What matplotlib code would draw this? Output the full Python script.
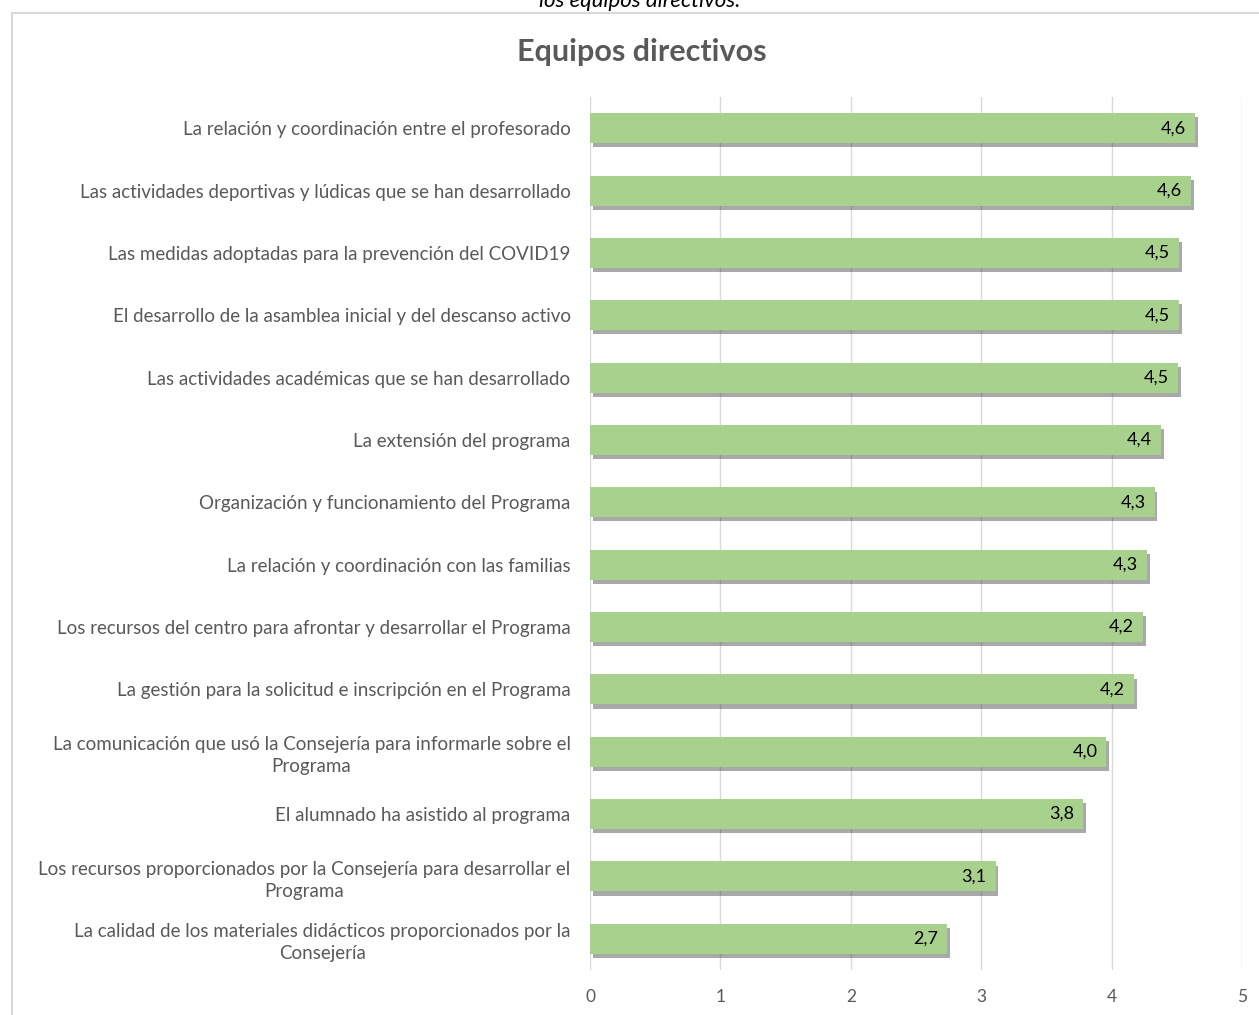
import matplotlib.pyplot as plt
import matplotlib.patheffects as pe
from matplotlib.patches import Rectangle

categories = [
    'La relación y coordinación entre el profesorado',
    'Las actividades deportivas y lúdicas que se han desarrollado',
    'Las medidas adoptadas para la prevención del COVID19',
    'El desarrollo de la asamblea inicial y del descanso activo',
    'Las actividades académicas que se han desarrollado',
    'La extensión del programa',
    'Organización y funcionamiento del Programa',
    'La relación y coordinación con las familias',
    'Los recursos del centro para afrontar y desarrollar el Programa',
    'La gestión para la solicitud e inscripción en el Programa',
    'La comunicación que usó la Consejería para informarle sobre el\nPrograma',
    'El alumnado ha asistido al programa',
    'Los recursos proporcionados por la Consejería para desarrollar el\nPrograma',
    'La calidad de los materiales didácticos proporcionados por la\nConsejería',
]
values = [4.64, 4.61, 4.52, 4.52, 4.51, 4.38, 4.33, 4.27, 4.24, 4.17, 3.96, 3.78, 3.11, 2.74]
value_labels = ['4,6', '4,6', '4,5', '4,5', '4,5', '4,4', '4,3', '4,3', '4,2', '4,2', '4,0', '3,8', '3,1', '2,7']
ticks = [0, 1, 2, 3, 4, 5]

plt.rcParams['font.family'] = ['Lato', 'DejaVu Sans']

fig = plt.figure(figsize=(12.59, 10.15), dpi=100)
ax = fig.add_axes([590 / 1259, 1 - 970 / 1015, (1242 - 590) / 1259, (970 - 97) / 1015])

# chart frame
fig.patches.append(Rectangle((12 / 1259, -0.01), 1.0, 1 - 13 / 1015 + 0.01,
                             transform=fig.transFigure, fill=False,
                             edgecolor='#d9d9d9', linewidth=1.5))
fig.text(640 / 1259, 1 - 7 / 1015, 'los equipos directivos.', ha='center', va='baseline',
         fontsize=16, style='italic', color='#000000')
fig.text(642 / 1259, 1 - 52 / 1015, 'Equipos directivos', ha='center', va='center',
         fontsize=22, fontweight='bold', color='#595959')

ypos = list(range(len(categories)))
bars = ax.barh(ypos, values, height=0.48, color='#a9d18e', zorder=3)
for b in bars:
    b.set_path_effects([pe.SimplePatchShadow(offset=(2, -3), shadow_rgbFace='#404040', alpha=0.45),
                        pe.Normal()])

for y, v, lab in zip(ypos, values, value_labels):
    ax.text(v - 0.07, y, lab, ha='right', va='center', fontsize=13, color='#000000', zorder=4)

ax.set_xlim(0, 5)
ax.set_ylim(len(categories) - 0.5, -0.5)
ax.set_xticks(ticks)
ax.set_xticklabels([str(t) for t in ticks], fontsize=12.5, color='#595959')
ax.set_yticks(ypos)
ax.set_yticklabels(categories, fontsize=13.5, color='#595959',
                   multialignment='center', linespacing=1.35)
ax.tick_params(axis='both', length=0)
ax.tick_params(axis='y', pad=14)
ax.tick_params(axis='x', pad=14)
ax.grid(axis='x', color='#d9d9d9', linewidth=1, zorder=0)
for s in ax.spines.values():
    s.set_visible(False)

plt.savefig('out.png', dpi=100)
